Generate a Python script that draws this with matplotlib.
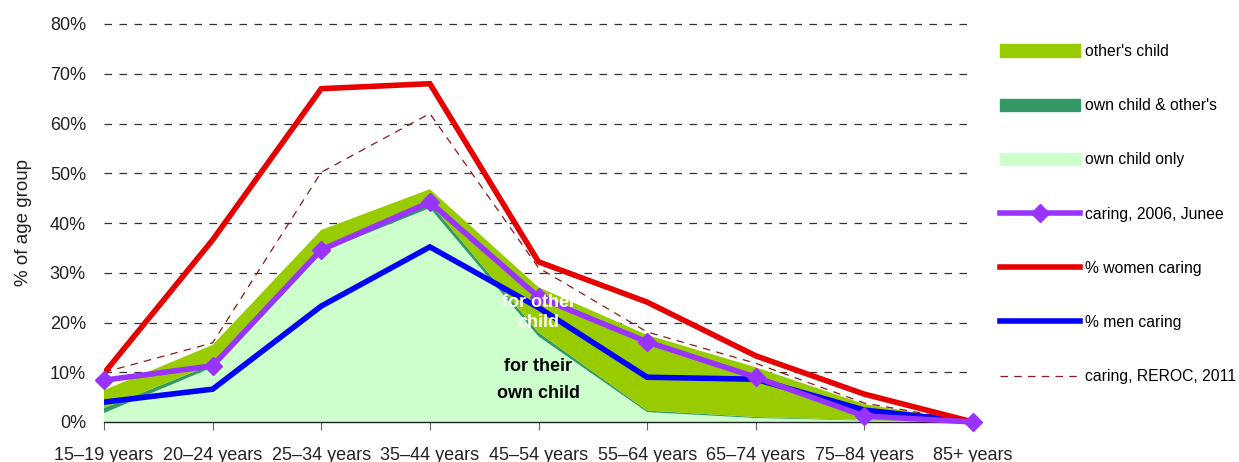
import numpy as np
import matplotlib
matplotlib.use('Agg')
import matplotlib.pyplot as plt
from matplotlib.lines import Line2D
from matplotlib.patches import Patch

plt.rcParams['font.family'] = ['Liberation Sans', 'DejaVu Sans']

# age groups
ages = ['15\u201319 years', '20\u201324 years', '25\u201334 years', '35\u201344 years',
        '45\u201354 years', '55\u201364 years', '65\u201374 years', '75\u201384 years', '85+ years']

# stacked areas (% of age group)
own_only = [1.8, 11.0, 34.2, 43.0, 17.2, 2.0, 0.8, 0.3, 0.0]
own_and_other = [1.0, 0.6, 0.6, 1.0, 0.8, 0.3, 0.2, 0.1, 0.0]
other_only = [3.6, 3.9, 3.8, 2.8, 9.1, 15.2, 10.0, 3.2, 0.0]

# lines
junee_2006 = [8.4, 11.3, 34.6, 44.2, 25.1, 16.1, 9.0, 1.2, 0.0]
women = [9.8, 36.6, 67.0, 68.0, 32.2, 24.1, 13.3, 5.6, 0.0]
men = [4.0, 6.6, 23.3, 35.2, 23.0, 9.0, 8.6, 2.4, 0.0]
reroc_2011 = [10.0, 15.9, 50.2, 62.0, 31.0, 18.1, 11.8, 3.8, 0.0]

W, H = 1239, 462
fig = plt.figure(figsize=(W / 100, H / 100), dpi=100)
ax = fig.add_axes([104 / W, 40 / H, (973 - 104) / W, 398 / H])

x = np.arange(len(ages))
pct = lambda v: np.array(v) / 100.0

# grid
for g in np.arange(0.1, 0.81, 0.1):
    ax.axhline(g, color='#333333', lw=0.9, dashes=(6, 6), zorder=0, clip_on=False)

ax.stackplot(x, pct(own_only), pct(own_and_other), pct(other_only),
             colors=['#CCFFCC', '#339966', '#99CC00'], zorder=1, lw=0)

ax.plot(x, pct(reroc_2011), color='#8B1A1A', lw=0.9, dashes=(6, 5), zorder=3)
ax.plot(x, pct(men), color='#0000FF', lw=4, zorder=4, solid_joinstyle='miter')
ax.plot(x, pct(women), color='#E60000', lw=4, zorder=4, solid_joinstyle='miter')
ax.plot(x, pct(junee_2006), color='#9933FF', lw=4, marker='D', ms=9, zorder=5,
        clip_on=False)

ax.text(4, 0.22, 'for other\nchild', color='white', fontweight='bold', fontsize=13,
        ha='center', va='center', linespacing=1.25, zorder=6)
ax.text(4, 0.085, 'for their\nown child', color='black', fontweight='bold', fontsize=13,
        ha='center', va='center', linespacing=1.75, zorder=6)

ax.set_xlim(0, 8)
ax.set_ylim(0, 0.8)
ax.set_xticks(x)
ax.set_xticklabels(ages, fontsize=13, color='#222222')
ax.set_yticks(np.arange(0, 0.81, 0.1))
ax.set_yticklabels(['%d%%' % v for v in range(0, 81, 10)], fontsize=13, color='#222222')
ax.tick_params(axis='y', length=0, pad=13)
ax.tick_params(axis='x', length=6, color='#666666', pad=12)
for s in ['left', 'right', 'top']:
    ax.spines[s].set_visible(False)
ax.spines['bottom'].set_color('#222222')
ax.spines['bottom'].set_linewidth(1)
ax.set_ylabel('% of age group', fontsize=13.5, color='#222222', labelpad=13)

handles = [
    Patch(color='#99CC00'),
    Patch(color='#339966'),
    Patch(color='#CCFFCC'),
    Line2D([], [], color='#9933FF', lw=4, marker='D', ms=9),
    Line2D([], [], color='#E60000', lw=4),
    Line2D([], [], color='#0000FF', lw=4),
    Line2D([], [], color='#8B1A1A', lw=0.9, dashes=(6, 5)),
]
labels = ["other's child", "own child & other's", 'own child only',
          'caring, 2006, Junee', '% women caring', '% men caring',
          'caring, REROC, 2011']
fig.legend(handles, labels, loc='upper left', bbox_to_anchor=(1000 / W, 1 - 44 / H),
           frameon=False, fontsize=11.3, handlelength=5.1, handleheight=0.85,
           handletextpad=0.3, labelspacing=2.5, borderaxespad=0, borderpad=0)

fig.savefig('out.png', dpi=100)
